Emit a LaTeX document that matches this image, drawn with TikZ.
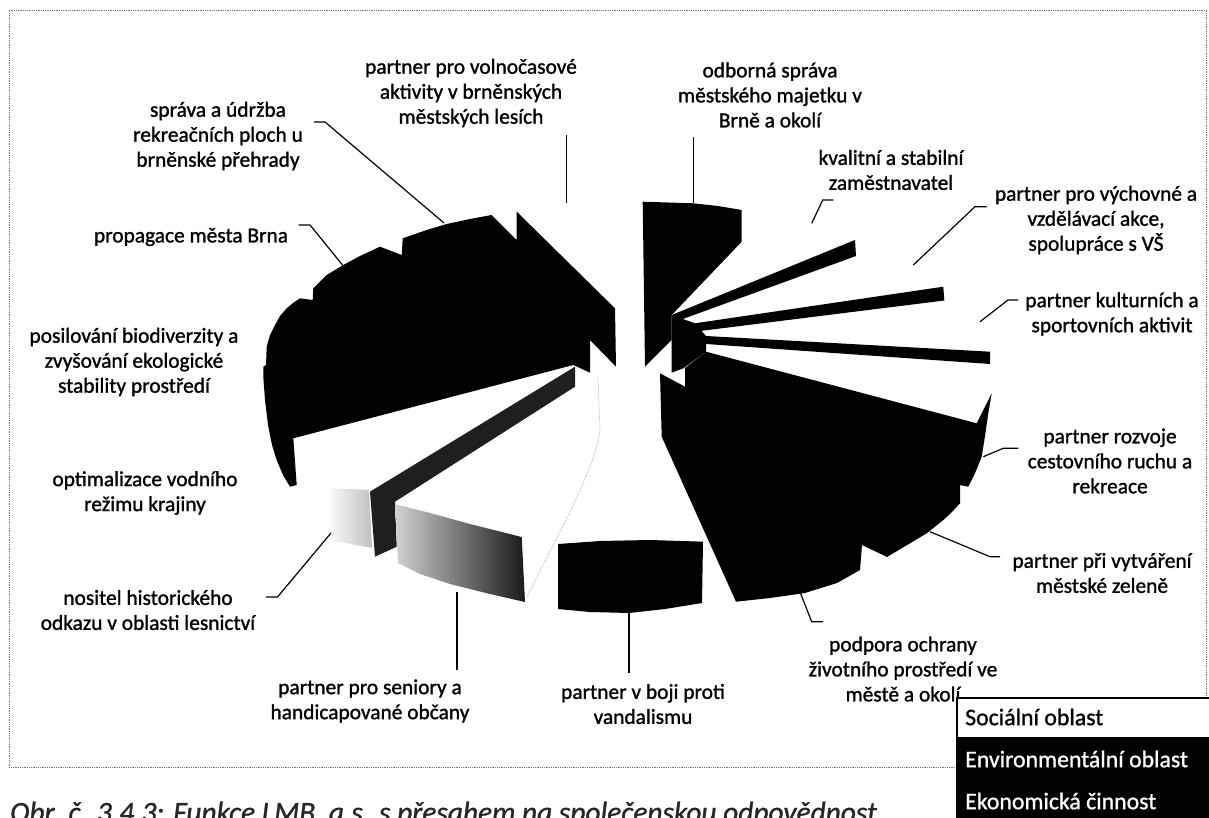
\documentclass[tikz,border=0pt]{standalone}
\usepackage{fontspec}
\setmainfont{Carlito}
\newcommand\lblfont{\fontsize{21.4pt}{25pt}\selectfont\addfontfeatures{FakeBold=1.2}}
\newcommand\legfont{\fontsize{23.8pt}{28pt}\selectfont\addfontfeatures{FakeBold=1}}
\newcommand\capfont{\fontsize{29.4pt}{34pt}\selectfont\itshape\addfontfeatures{FakeBold=1}}
\tikzset{
  lbl/.style={align=center, inner sep=0pt, font=\lblfont, text=black},
  leader/.style={line width=1.2pt, draw=black},
  slab/.style={fill=black, draw=none},
  strip/.style={fill=black!88, draw=none},
  faint/.style={draw=black!40, line width=0.6pt, densely dotted},
  frame/.style={draw=black!55, line width=0.8pt, densely dotted},
  legtxt/.style={anchor=west, inner sep=0pt, font=\legfont},
}
\begin{document}
\begin{tikzpicture}[x=1pt,y=-1pt]
\useasboundingbox (0,0) rectangle (1209,818);
\fill[white] (0,0) rectangle (1209,818);
% frame
\draw[frame] (956.7,767) -- (9,767) -- (9,10) -- (1206.5,10) -- (1206.5,698);

% left black mass
\fill[slab] (516.7,211.7) -- (615,308.3) -- (616,366.7) -- (590,340) -- (590,372.7) -- (573.3,365) -- (293.3,438.3) -- (296.7,485) -- (290,486.7) -- (283,475) -- (277,461) -- (272,445) -- (268,425) -- (265,400) -- (263.5,380) -- (263.3,366.7) -- (266,365) -- (266.7,346.7) -- (270,335) -- (275,325) -- (280,316) -- (286.7,308.3) -- (293,303) -- (300,298.3) -- (312.7,300) -- (313.3,288.3) -- (326.7,275) -- (343.3,265) -- (360,256) -- (380,246.7) -- (401.7,255) -- (402.7,238.3) -- (426.7,230) -- (446.7,224) -- (470,219) -- (491.7,215) -- (516.7,240) -- cycle;

% dark strip
\fill[strip] (575,366.7) -- (575,386.7) -- (395,501.7) -- (396.7,546.7) -- (375,556.7) -- (370,491.7) -- cycle;
% faint speckled side
\shade[left color=white, right color=black!25] (326,488) -- (369,490) -- (372,548) -- (330,540) -- cycle;
% gradient face
\shade[left color=black!18, right color=black!90] (395,504) -- (430,513) -- (470,524) -- (521.7,537) -- (525,602) -- (490,594) -- (450,584) -- (420,574) -- (398,563) -- cycle;
% faint outline of the white slice
\draw[faint] (598,378) -- (600,430) .. controls (595,470) and (560,530) .. (527,597);

% vandalism face
\fill[slab] (558,544) -- (600,541) -- (650,540) -- (703,541.7) -- (702,603) -- (665,609) -- (629,613) -- (590,612) -- (558,609) -- cycle;

% odborna sprava slice
\fill[slab] (642.7,201.7) -- (693.3,203.3) -- (718,206) -- (741.7,210) -- (741.7,241.7) -- (671.7,315) -- (671.7,340) -- (645,366.7) -- cycle;
% centre piece
\fill[slab] (671.7,315) -- (695,323.3) -- (706,336) -- (706,351.7) -- (683.3,368.3) -- (671.7,372.7) -- cycle;
% thin wedges
\fill[slab] (671.7,315) -- (855,240) -- (856,256) -- (680,320) -- cycle;
\fill[slab] (695,323.3) -- (943.3,286.7) -- (944.3,300.5) -- (700,331) -- cycle;
\fill[slab] (706,336) -- (990,351.7) -- (990,364) -- (706,344) -- cycle;
% lower right mass
\fill[slab] (660,373.3) -- (685,386.7) -- (685,368) -- (706,351.7) -- (976.7,423.3) -- (991.7,393.3) -- (988,415) -- (985,436) -- (981.7,456.7) -- (975,473.3) -- (968.3,486.7) -- (960,485) -- (960,503.3) -- (950,514) -- (943.3,520) -- (926.7,533.3) -- (910,543.3) -- (887,557) -- (862,545) -- (860,570) -- (837,583) -- (805,593) -- (770,598) -- (736,601.7) -- (661.7,436.7) -- cycle;

% labels
\node[lbl] (volno) at (471,93) {partner pro volnočasové\\aktivity v brněnských\\městských lesích};
\node[lbl] (odb) at (770,95) {odborná správa\\městského majetku v\\Brně a okolí};
\node[lbl] (sprava) at (218,136) {správa a údržba\\rekreačních ploch u\\brněnské přehrady};
\node[lbl] (propag) at (191,237) {propagace města Brna};
\node[lbl] (kval) at (891,170) {kvalitní a stabilní\\zaměstnavatel};
\node[lbl] (vych) at (1096,220) {partner pro výchovné a\\vzdělávací akce,\\spolupráce s VŠ};
\node[lbl] (kult) at (1112,314) {partner kulturních a\\sportovních aktivit};
\node[lbl] (posil) at (134,362) {posilování biodiverzity a\\zvyšování ekologické\\stability prostředí};
\node[lbl] (optim) at (145,493) {optimalizace vodního\\režimu krajiny};
\node[lbl] (rozv) at (1110,461) {partner rozvoje\\cestovního ruchu a\\rekreace};
\node[lbl] (zelen) at (1102,573) {partner při vytváření\\městské zeleně};
\node[lbl] (nosit) at (148,610) {nositel historického\\odkazu v oblasti lesnictví};
\node[lbl] (podp) at (903,669) {podpora ochrany\\životního prostředí ve\\městě a okolí};
\node[lbl] (senior) at (370,701) {partner pro seniory a\\handicapované občany};
\node[lbl] (vandal) at (643,704) {partner v boji proti\\vandalismu};

% leader coordinates
\coordinate (volA) at (566.7,135); \coordinate (volB) at (566.7,203);
\coordinate (odbA) at (693.3,137); \coordinate (odbB) at (693.3,203);
\coordinate (sprA) at (314,122); \coordinate (sprK) at (325,122); \coordinate (sprB) at (444,223);
\coordinate (proA) at (298.5,225); \coordinate (proK) at (310,225); \coordinate (proB) at (342.5,265);
\coordinate (kvaA) at (833.3,200); \coordinate (kvaK) at (822.7,200); \coordinate (kvaB) at (811.7,223.3);
\coordinate (vycA) at (986.7,206.7); \coordinate (vycK) at (975,206.7); \coordinate (vycB) at (913.3,265);
\coordinate (kulA) at (1018,300); \coordinate (kulK) at (1008,300); \coordinate (kulB) at (980,321.7);
\coordinate (rozA) at (1018.3,448.3); \coordinate (rozK) at (1003.3,448.3); \coordinate (rozB) at (983.3,456.7);
\coordinate (zelA) at (1000,556.7); \coordinate (zelK) at (990,556.7); \coordinate (zelB) at (930,531.7);
\coordinate (podA) at (823,621.7); \coordinate (podK) at (811.7,621.7); \coordinate (podB) at (800,592);
\coordinate (vanA) at (629,673); \coordinate (vanB) at (629,612);
\coordinate (senA) at (457,670); \coordinate (senB) at (457,592);
\coordinate (nosA) at (266,597); \coordinate (nosK) at (277.5,597); \coordinate (nosB) at (331,533);

\draw[leader] (volA) -- (volB);
\draw[leader] (odbA) -- (odbB);
\draw[leader] (sprA) -- (sprK) -- (sprB);
\draw[leader] (proA) -- (proK) -- (proB);
\draw[leader] (kvaA) -- (kvaK) -- (kvaB);
\draw[leader] (vycA) -- (vycK) -- (vycB);
\draw[leader] (kulA) -- (kulK) -- (kulB);
\draw[leader] (rozA) -- (rozK) -- (rozB);
\draw[leader] (zelA) -- (zelK) -- (zelB);
\draw[leader] (podA) -- (podK) -- (podB);
\draw[leader] (vanA) -- (vanB);
\draw[leader] (senA) -- (senB);
\draw[leader] (nosA) -- (nosK) -- (nosB);

% caption
\node[anchor=base west, inner sep=0pt, font=\capfont, text=black!85] (cap) at (10,822) {Obr. č. 3.4.3: Funkce LMB, a.s. s přesahem na společenskou odpovědnost};

% legend
\fill[white] (956.7,698.3) rectangle (1209,737);
\fill[black] (956.7,737) rectangle (1209,818);
\draw[line width=2pt] (1209,698.3) -- (956.7,698.3) -- (956.7,818);
\node[legtxt, text=black] (leg1) at (965,717) {Sociální oblast};
\node[legtxt, text=white] (leg2) at (965,759) {Environmentální oblast};
\node[legtxt, text=white] (leg3) at (965,801) {Ekonomická činnost};
\end{tikzpicture}
\end{document}
